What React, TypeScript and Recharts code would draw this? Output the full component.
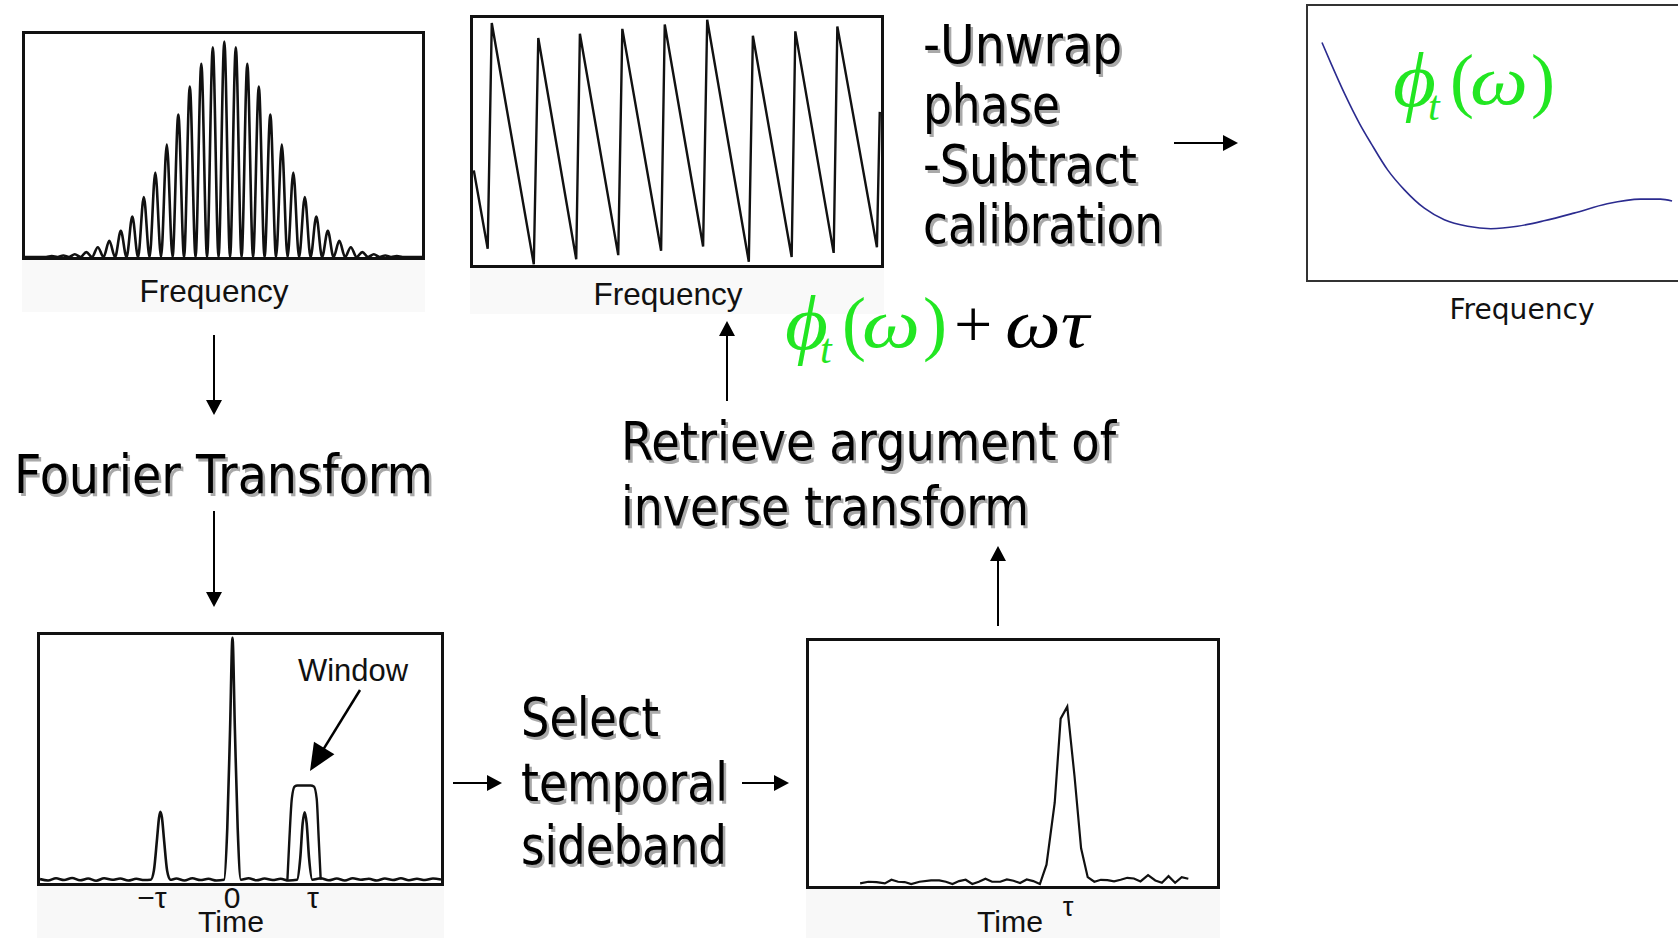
import React from "react";
import { LineChart, Line, XAxis, YAxis } from "recharts";

// spectral interferogram: fringe peak heights (% of box), left to right
const fringePeaks = [
  0.4, 0.7, 1.2, 2.2, 4.4, 7.3, 11.7, 18.1, 26.9, 37.9, 50.4, 63.9, 76.4, 86.6, 94.0,
  96.6,
  94.0, 86.6, 76.4, 63.9, 50.4, 37.9, 26.9, 18.1, 11.7, 7.3, 4.4, 2.2, 1.2, 0.7, 0.4,
];
const fringeDomain = [-2.33, 32.19];

// wrapped phase: sawtooth vertices [x %, y %]
const wrappedPhase = [
  [0.2, 38.3], [3.6, 6.6], [4.6, 98.0], [14.9, 0.3], [16.0, 91.9], [25.3, 2.3],
  [26.2, 93.6], [35.6, 4.0], [36.6, 95.6], [46.1, 5.8], [47.0, 97.4], [56.4, 7.5],
  [57.4, 99.3], [67.6, 1.3], [68.6, 92.8], [78.1, 3.2], [79.0, 94.6], [88.4, 4.9],
  [89.3, 96.6], [99.0, 7.2], [99.7, 62.0],
];

// retrieved spectral phase (blue curve)
const specPhase = [
  [3.75, 86.7], [6.26, 78.8], [9.83, 68.0], [13.85, 57.1], [16.98, 49.8], [21.45, 40.1],
  [25.92, 32.9], [31.28, 26.2], [36.64, 22.0], [42.9, 19.6], [49.15, 18.7], [56.3, 19.6],
  [63.45, 21.6], [71.49, 24.4], [80.43, 27.8], [89.37, 29.5], [94.73, 29.5], [97.86, 28.8],
];

// Fourier transform of interferogram: -tau, 0, tau peaks on a noisy floor
const timeTrace = [
  [0, 1.6], [2, 1.0], [4, 1.9], [6, 1.2], [8, 2.0], [10, 1.1], [12, 1.8], [14, 0.9],
  [16, 1.9], [18, 1.3], [20, 1.8], [22, 1.0], [24, 1.7], [26, 1.2], [27.6, 1.3],
  [28.4, 5], [29.2, 18], [29.7, 26.5], [30.0, 28.7], [30.4, 26.5], [30.9, 18], [31.7, 5],
  [32.5, 1.3], [34, 1.8], [36, 1.0], [38, 1.9], [40, 1.2], [42, 1.7], [44, 1.0],
  [45.9, 1.3], [46.7, 22], [47.4, 62], [48.0, 98.9], [48.6, 62], [49.3, 22], [50.1, 1.3],
  [52, 1.9], [54, 1.1], [56, 1.8], [58, 1.2], [60, 1.7], [62, 1.0], [64.1, 1.3],
  [64.9, 10], [65.5, 24], [66.0, 28.5], [66.5, 24], [67.1, 10], [67.9, 1.3], [70, 1.9],
  [72, 1.1], [74, 1.8], [76, 1.0], [78, 1.9], [80, 1.3], [82, 1.7], [84, 1.0], [86, 1.8],
  [88, 1.2], [90, 1.9], [92, 1.1], [94, 1.7], [96, 1.2], [98, 1.8], [100, 1.4],
];
const windowShape = [
  [61.7, 1.3], [62.2, 18], [62.8, 34], [63.5, 38.9], [64.2, 39.3], [67.5, 39.3],
  [68.3, 38.9], [69.0, 34], [69.5, 18], [70.0, 1.3],
];
const timeTicks = [
  { label: "\u2212\u03c4", x: 152 },
  { label: "0", x: 232 },
  { label: "\u03c4", x: 313 },
];

// selected sideband only
const sideband = [
  [12.53, 1.07], [14.55, 1.74], [16.57, 1.61], [18.59, 1.07], [20.21, 2.54], [21.83, 1.74],
  [23.44, 1.61], [25.06, 0.8], [27.08, 1.74], [29.91, 2.28], [31.93, 2.28], [33.55, 1.74],
  [35.17, 0.8], [36.78, 2.0], [38.4, 2.54], [40.02, 0.8], [41.63, 1.74], [43.25, 2.95],
  [44.87, 1.74], [46.89, 1.74], [48.5, 2.68], [50.12, 2.14], [51.74, 1.2], [53.36, 2.68],
  [54.97, 2.0], [56.59, 0.8], [58.21, 8.7], [60.23, 34.1], [61.68, 68.3], [63.3, 73.2],
  [65.08, 44.8], [66.69, 15.4], [68.31, 3.6], [69.93, 1.74], [71.54, 2.54], [73.16, 2.41],
  [74.78, 1.87], [76.39, 2.54], [78.01, 3.35], [79.63, 3.08], [81.25, 1.87], [83.1, 4.42],
  [84.88, 2.28], [86.5, 1.34], [88.12, 4.02], [89.73, 1.34], [91.35, 3.61], [92.97, 2.95],
];

const toRows = (pts: number[][]) => pts.map(([x, y]) => ({ x, y }));

const fringeRows = [
  { x: fringeDomain[0], y: 0 },
  ...fringePeaks.flatMap((p, i) => [
    { x: i - 0.5, y: 0 },
    { x: i, y: p },
  ]),
  { x: fringePeaks.length - 0.5, y: 0 },
  { x: fringeDomain[1], y: 0 },
];

const BIG = "'DejaVu Sans', Verdana, sans-serif";
const ARIAL = "'Liberation Sans', Arial, sans-serif";
const SERIF = "'Liberation Serif', 'DejaVu Serif', serif";
const GREEN = "#22e622";

function Plot({ left, top, width, height, border = 3, borderColor = "#111", xDomain = [0, 100], series }: any) {
  const w = width - border * 2;
  const h = height - border * 2;
  return (
    <div
      style={{
        position: "absolute",
        left,
        top,
        width,
        height,
        boxSizing: "border-box",
        border: `${border}px solid ${borderColor}`,
        background: "#fff",
      }}
    >
      <LineChart width={w} height={h} margin={{ top: 0, right: 0, bottom: 0, left: 0 }}>
        <XAxis type="number" dataKey="x" domain={xDomain} hide allowDataOverflow />
        <YAxis type="number" domain={[0, 100]} hide allowDataOverflow />
        {series.map((s: any, i: number) => (
          <Line
            key={i}
            data={s.data}
            dataKey="y"
            type={s.type || "linear"}
            stroke={s.color || "#111"}
            strokeWidth={s.width || 2}
            dot={false}
            activeDot={false}
            isAnimationActive={false}
          />
        ))}
      </LineChart>
    </div>
  );
}

function Arrow({ x1, y1, x2, y2, head = 15, wing = 8, sw = 2 }: any) {
  const dx = x2 - x1;
  const dy = y2 - y1;
  const len = Math.hypot(dx, dy);
  const ux = dx / len;
  const uy = dy / len;
  const bx = x2 - ux * head;
  const by = y2 - uy * head;
  const px = -uy;
  const py = ux;
  return (
    <g>
      <line x1={x1} y1={y1} x2={bx + ux} y2={by + uy} stroke="#000" strokeWidth={sw} />
      <polygon
        points={`${x2},${y2} ${bx + px * wing},${by + py * wing} ${bx - px * wing},${by - py * wing}`}
        fill="#000"
      />
    </g>
  );
}

function Big({ x, y, len, children }: any) {
  const common = {
    fontFamily: BIG,
    fontSize: 53,
    textLength: len,
    lengthAdjust: "spacingAndGlyphs" as const,
  };
  return (
    <g>
      <text x={x + 2.5} y={y + 2.5} fill="#a9a9a9" {...common}>
        {children}
      </text>
      <text x={x} y={y} fill="#000" {...common}>
        {children}
      </text>
    </g>
  );
}

function Label({ x, y, size, len, family = ARIAL, anchor = "middle", children }: any) {
  return (
    <text
      x={x}
      y={y}
      fontFamily={family}
      fontSize={size}
      textAnchor={anchor}
      textLength={len}
      lengthAdjust="spacingAndGlyphs"
      fill="#111"
    >
      {children}
    </text>
  );
}

function Formula({ x, y, plus }: any) {
  const fit = { lengthAdjust: "spacingAndGlyphs" as const };
  return (
    <g fontFamily={SERIF} fill={GREEN}>
      <text x={x} y={y + 2} fontSize={78} fontStyle="italic" textLength={43} {...fit}>
        {"\u03d5"}
      </text>
      <text x={x + 35} y={y + 16} fontSize={42} fontStyle="italic">
        t
      </text>
      <text x={x + 57} y={y} fontSize={72}>
        (
      </text>
      <text x={x + 77} y={y} fontSize={70} fontStyle="italic" textLength={58} {...fit}>
        {"\u03c9"}
      </text>
      <text x={x + 138} y={y} fontSize={72}>
        )
      </text>
      {plus && (
        <g fill="#000">
          <text x={x + 169} y={y} fontSize={68}>
            +
          </text>
          <text x={x + 220} y={y} fontSize={70} fontStyle="italic" textLength={84} {...fit}>
            {"\u03c9\u03c4"}
          </text>
        </g>
      )}
    </g>
  );
}

export default function App() {
  return (
    <div
      style={{
        position: "absolute",
        left: 0,
        top: 0,
        width: 1678,
        height: 938,
        overflow: "hidden",
        background: "#fff",
      }}
    >
      {/* faint image backgrounds under the plot labels */}
      <div style={{ position: "absolute", left: 22, top: 258, width: 403, height: 54, background: "#f9f9f9" }} />
      <div style={{ position: "absolute", left: 470, top: 266, width: 414, height: 48, background: "#f9f9f9" }} />
      <div style={{ position: "absolute", left: 37, top: 884, width: 407, height: 54, background: "#f8f8f8" }} />
      <div style={{ position: "absolute", left: 806, top: 887, width: 414, height: 51, background: "#f8f8f8" }} />

      <Plot
        left={22}
        top={31}
        width={403}
        height={229}
        xDomain={fringeDomain}
        series={[{ data: fringeRows, type: "monotone", width: 2.6 }]}
      />
      <Plot left={470} top={15} width={414} height={253} series={[{ data: toRows(wrappedPhase), width: 2.4 }]} />
      <Plot
        left={1306}
        top={4}
        width={376}
        height={278}
        border={2}
        borderColor="#333"
        series={[{ data: toRows(specPhase), type: "monotone", color: "#2b2b8f", width: 1.6 }]}
      />
      <Plot
        left={37}
        top={632}
        width={407}
        height={254}
        series={[
          { data: toRows(timeTrace), type: "monotone", width: 2.6 },
          { data: toRows(windowShape), type: "monotone", width: 2.4 },
        ]}
      />
      <Plot left={806} top={638} width={414} height={251} series={[{ data: toRows(sideband), width: 2.2 }]} />

      <svg
        width={1678}
        height={938}
        style={{ position: "absolute", left: 0, top: 0, pointerEvents: "none", overflow: "visible" }}
      >
        {/* plot labels */}
        <Label x={214} y={302} size={32} len={149}>
          Frequency
        </Label>
        <Label x={668} y={305} size={32} len={149}>
          Frequency
        </Label>
        <Label x={1522} y={319} size={29} len={145} family={BIG}>
          Frequency
        </Label>
        <Label x={353} y={681} size={31} len={110}>
          Window
        </Label>
        {timeTicks.map((t) => (
          <Label key={t.label} x={t.x} y={908} size={30}>
            {t.label}
          </Label>
        ))}
        <Label x={231} y={932} size={30} len={66}>
          Time
        </Label>
        <Label x={1010} y={932} size={30} len={66}>
          Time
        </Label>
        <Label x={1068} y={916} size={27}>
          {"\u03c4"}
        </Label>

        {/* flow text */}
        <Big x={923} y={63} len={199}>
          -Unwrap
        </Big>
        <Big x={923} y={123} len={137}>
          phase
        </Big>
        <Big x={923} y={183} len={214}>
          -Subtract
        </Big>
        <Big x={923} y={243} len={240}>
          calibration
        </Big>
        <Big x={14} y={493} len={419}>
          Fourier Transform
        </Big>
        <Big x={621} y={460} len={495}>
          Retrieve argument of
        </Big>
        <Big x={621} y={525} len={408}>
          inverse transform
        </Big>
        <Big x={521} y={736} len={138}>
          Select
        </Big>
        <Big x={521} y={801} len={207}>
          temporal
        </Big>
        <Big x={521} y={864} len={206}>
          sideband
        </Big>

        {/* arrows */}
        <Arrow x1={214} y1={335} x2={214} y2={415} />
        <Arrow x1={214} y1={511} x2={214} y2={607} />
        <Arrow x1={453} y1={783} x2={502} y2={783} />
        <Arrow x1={742} y1={783} x2={789} y2={783} />
        <Arrow x1={998} y1={626} x2={998} y2={546} />
        <Arrow x1={727} y1={401} x2={727} y2={321} />
        <Arrow x1={1174} y1={143} x2={1238} y2={143} />
        <Arrow x1={360} y1={690} x2={310} y2={771} head={27} wing={12} sw={2.5} />

        {/* phase formulas */}
        <Formula x={785} y={347} plus />
        <Formula x={1393} y={104} />
      </svg>
    </div>
  );
}
